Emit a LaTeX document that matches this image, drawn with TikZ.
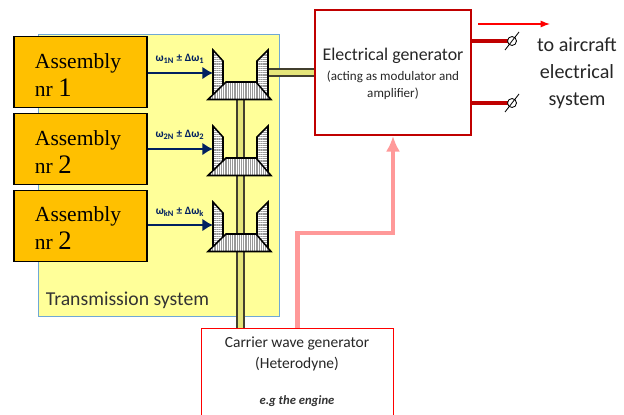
\documentclass[tikz,border=0pt]{standalone}
\usepackage{fontspec}
\setmainfont{Carlito}
\newfontfamily\serifbox{Liberation Serif}
\usepackage{tikz}
\usetikzlibrary{arrows.meta,patterns.meta,calc}
\usepackage{xcolor}
\definecolor{orangebox}{HTML}{FFC000}
\definecolor{paleyellow}{HTML}{FFFF99}
\definecolor{edgeblue}{HTML}{6FA8D6}
\definecolor{darkred}{HTML}{C00000}
\definecolor{navyarrow}{HTML}{002060}
\definecolor{pinkline}{HTML}{FF9999}
\begin{document}
\begin{tikzpicture}[x=0.025cm,y=-0.025cm,>=Latex,
  every node/.style={font=\small},
  asm/.style={draw=black,line width=1.1pt,fill=orangebox,minimum width=133*0.025cm,minimum height=71*0.025cm,inner sep=0pt},
  asmtext/.style={font=\serifbox\fontsize{15.3}{20}\selectfont,align=left,anchor=west},
  freq/.style={->,navyarrow,line width=1.9pt,>={Latex[length=7.5pt,width=9pt]}},
  freqtext/.style={text=navyarrow,font=\fontsize{8}{9}\selectfont\bfseries},
  shaft/.style={draw=black!70!olive,line width=1.1pt,double=paleyellow!80!olive,double distance=4pt},
  flank/.style={draw=black,line width=1.1pt,preaction={fill=white},pattern={Lines[angle=0,distance=1.3pt,line width=0.5pt]},pattern color=black!40},
  crown/.style={draw=black,line width=1.1pt,preaction={fill=white},pattern={Lines[angle=90,distance=1.3pt,line width=0.5pt]},pattern color=black!40},
  outline/.style={darkred,line width=2.4pt},
  slash/.style={black,line width=0.6pt},
]
\useasboundingbox (0,0) rectangle (624,414);
\clip (0,0) rectangle (624,414);
\node[draw=edgeblue,line width=0.7pt,fill=paleyellow,minimum width=241*0.025cm,minimum height=282*0.025cm,inner sep=0pt] (Trans) at (158.5,175) {};
\node[anchor=west,font=\fontsize{14}{16}\selectfont,text=black!80] (TransText) at (41,300) {Transmission system};

\node[asm] (A1) at (80.5,72) {};
\node[asm] (A2) at (80.5,149) {};
\node[asm] (A3) at (80.5,226) {};
\node[asmtext] (A1text) at (30,75) {Assembly\\nr {\fontsize{19}{20}\selectfont 1}};
\node[asmtext] (A2text) at (30,152) {Assembly\\nr {\fontsize{19}{20}\selectfont 2}};
\node[asmtext] (A3text) at (30,228) {Assembly\\nr {\fontsize{19}{20}\selectfont 2}};

\node[draw=darkred,line width=1.5pt,minimum width=156*0.025cm,minimum height=125*0.025cm,inner sep=0pt] (Gen) at (393,72.5) {};
\node[font=\fontsize{12.7}{14}\selectfont,text=black!85] (GenText) at (393,56) {Electrical generator};
\node[font=\fontsize{9.3}{12}\selectfont,align=center,text=black!85] (GenNote) at (393,85) {(acting as modulator and\\amplifier)};

\node[draw=red,line width=0.7pt,minimum width=192*0.025cm,minimum height=100*0.025cm,inner sep=0pt] (Carrier) at (297,378) {};
\node[font=\fontsize{11}{14.5}\selectfont,align=center,text=black!85] (CarrierText) at (297,354) {Carrier wave generator\\(Heterodyne)};
\node[font=\fontsize{9}{10}\selectfont\itshape\bfseries,text=black!80] (EngineText) at (297,401) {e.g the engine};

% shafts first, the gears sit on top
\coordinate (G1) at (240.5,95);
\coordinate (H1) at (268,72.5);
\draw[shaft] (G1) -- (G1 |- Carrier.north);
\draw[shaft] (H1) -- (H1 -| Gen.west);

% bevel gears
\foreach \dy in {0,76,152} {
  \draw[flank] (213,50+\dy) -- (223,61+\dy) -- (223,90+\dy) -- (213,98+\dy) -- cycle;
  \draw[flank] (268,50+\dy) -- (257,61+\dy) -- (257,90+\dy) -- (268,98+\dy) -- cycle;
  \draw[crown] (226,82+\dy) -- (256,82+\dy) -- (271,99.5+\dy) -- (208,99.5+\dy) -- cycle;
}

\coordinate (I1) at (213,73);
\coordinate (I2) at (213,149);
\coordinate (I3) at (213,225);
\draw[freq] (A1.east |- I1) -- (I1);
\draw[freq] (A2.east |- I2) -- (I2);
\draw[freq] (A3.east |- I3) -- (I3);
\node[freqtext] (W1) at (180,59) {ω\textsubscript{1N} ± Δω\textsubscript{1}};
\node[freqtext] (W2) at (180,135) {ω\textsubscript{2N} ± Δω\textsubscript{2}};
\node[freqtext] (Wk) at (180,212) {ω\textsubscript{kN} ± Δω\textsubscript{k}};

% carrier feed
\coordinate (C1) at (297.5,233);
\coordinate (C2) at (393,233);
\draw[pinkline,line width=3pt,-{Latex[length=11pt,width=10pt]}] (C1 |- Carrier.north) -- (C1) -- (C2) -- (C2 |- Gen.south);

% outputs
\coordinate (S1) at (512,41);
\coordinate (S2) at (512,103);
\draw[outline] (S1 -| Gen.east) -- (S1);
\draw[outline] (S2 -| Gen.east) -- (S2);
\foreach \s in {S1,S2} {
  \draw[slash,fill=white] (\s) circle (4.5);
  \draw[slash] ($(\s)+(-7,9)$) -- ($(\s)+(7,-9)$);
}
\coordinate (R1) at (478,24);
\coordinate (R2) at (550,24);
\draw[->,red,line width=0.8pt] (R1) -- (R2);
\node[font=\fontsize{14.3}{19}\selectfont,align=center,text=black!85] (Aircraft) at (577,73) {to aircraft\\electrical\\system};
\end{tikzpicture}
\end{document}
